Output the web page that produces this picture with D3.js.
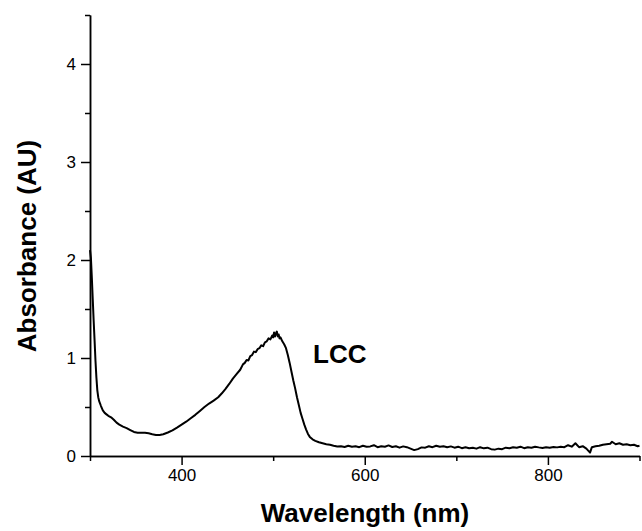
<!DOCTYPE html>
<html>
<head>
<meta charset="utf-8">
<script src="https://cdn.jsdelivr.net/npm/d3@7"></script>
<style>
  body { margin: 0; background: #fff; }
  text { font-family: "Liberation Sans", Arial, sans-serif; fill: #000; }
  .axis path, .axis line { stroke: #000; stroke-width: 1.5; }
  .axis text { font-size: 17px; }
  .title { font-size: 26px; font-weight: bold; }
</style>
</head>
<body>
<div id="plot"></div>
<script>
let svgWidth = 642
let svgHeight = 531

// spectrum (nm, AU)
let wavelength = [
  300, 301, 302, 303, 304, 305, 306, 307, 308, 309, 310, 312, 314, 316, 318, 320,
  323, 326, 329, 332, 336, 340, 344, 348, 352, 356, 360, 364, 368, 372, 376, 380,
  385, 390, 395, 400, 405, 410, 415, 420, 425, 430, 435, 440, 444, 448, 452, 456,
  460, 464, 467, 469, 471, 473, 475, 477, 479, 481, 483, 485, 487, 489, 491, 493,
  495, 497, 499, 500, 501, 502, 503, 504, 505, 506, 507, 508, 510, 512, 514, 516,
  518, 520, 522, 524, 526, 528, 530, 532, 534, 536, 538, 540, 543, 546, 550, 554,
  558, 562, 566, 570, 574, 578, 582, 586, 590, 594, 598, 602, 606, 610, 614, 618,
  622, 626, 630, 634, 638, 642, 646, 650, 654, 658, 662, 666, 670, 674, 678, 682,
  686, 690, 694, 698, 702, 706, 710, 714, 718, 722, 726, 730, 734, 738, 742, 746,
  750, 754, 758, 762, 766, 770, 774, 778, 782, 786, 790, 794, 798, 802, 806, 810,
  814, 818, 822, 826, 830, 834, 838, 842, 846, 848, 852, 856, 860, 864, 868, 870,
  874, 878, 882, 886, 890, 894, 898, 900
]
let absorbance = [
  2.10, 2.02, 1.82, 1.60, 1.38, 1.18, 0.97, 0.80, 0.67, 0.60, 0.56, 0.51, 0.465, 0.44, 0.425, 0.41,
  0.395, 0.37, 0.34, 0.32, 0.30, 0.285, 0.265, 0.245, 0.238, 0.238, 0.237, 0.232, 0.222, 0.215, 0.215, 0.222,
  0.24, 0.262, 0.29, 0.32, 0.35, 0.385, 0.42, 0.46, 0.50, 0.535, 0.565, 0.60, 0.64, 0.685, 0.735, 0.79,
  0.835, 0.88, 0.935, 0.95, 0.98, 0.975, 1.02, 1.03, 1.065, 1.06, 1.09, 1.10, 1.13, 1.12, 1.16, 1.17,
  1.20, 1.19, 1.23, 1.21, 1.26, 1.22, 1.25, 1.27, 1.22, 1.24, 1.20, 1.21, 1.17, 1.14, 1.10, 1.03,
  0.95, 0.86, 0.77, 0.69, 0.60, 0.52, 0.44, 0.38, 0.32, 0.27, 0.225, 0.195, 0.17, 0.155, 0.14, 0.13,
  0.12, 0.115, 0.105, 0.098, 0.10, 0.092, 0.104, 0.095, 0.10, 0.09, 0.105, 0.095, 0.098, 0.11, 0.09, 0.10,
  0.095, 0.108, 0.092, 0.10, 0.085, 0.098, 0.09, 0.075, 0.06, 0.07, 0.088, 0.085, 0.10, 0.09, 0.105, 0.095,
  0.10, 0.09, 0.098, 0.085, 0.095, 0.08, 0.09, 0.08, 0.085, 0.075, 0.09, 0.078, 0.085, 0.07, 0.065, 0.075,
  0.07, 0.085, 0.08, 0.09, 0.085, 0.095, 0.08, 0.09, 0.085, 0.095, 0.088, 0.082, 0.09, 0.085, 0.092, 0.088,
  0.095, 0.09, 0.11, 0.095, 0.13, 0.09, 0.10, 0.075, 0.035, 0.09, 0.10, 0.105, 0.115, 0.12, 0.125, 0.145,
  0.12, 0.13, 0.115, 0.12, 0.11, 0.115, 0.10, 0.105
]

let xMajor = [400, 600, 800]
let xMinor = [300, 500, 700, 900]
let yMajor = [0, 1, 2, 3, 4]
let yMinor = [0.5, 1.5, 2.5, 3.5, 4.5]

let seriesLabel = "LCC"
let labelPos = [543.5, 0.95]

let svg = d3.select("#plot")
  .append("svg")
  .attr("width", svgWidth)
  .attr("height", svgHeight)

let xScale = d3.scaleLinear()
  .domain([300, 900])
  .range([90, 639.5])

let yScale = d3.scaleLinear()
  .domain([0, 4.5])
  .range([456, 15])

// minor ticks first, then labelled major ticks
svg.append("g")
  .attr("class", "axis")
  .attr("transform", "translate(0, 456)")
  .call(d3.axisBottom(xScale).tickValues(xMinor).tickSize(5).tickSizeOuter(0).tickFormat(""))

svg.append("g")
  .attr("class", "axis")
  .attr("transform", "translate(0, 456)")
  .call(d3.axisBottom(xScale).tickValues(xMajor).tickSize(9).tickSizeOuter(0).tickPadding(4).tickFormat(d3.format("d")))

svg.append("g")
  .attr("class", "axis")
  .attr("transform", "translate(90, 0)")
  .call(d3.axisLeft(yScale).tickValues(yMinor).tickSize(5).tickSizeOuter(0).tickFormat(""))

svg.append("g")
  .attr("class", "axis")
  .attr("transform", "translate(90, 0)")
  .call(d3.axisLeft(yScale).tickValues(yMajor).tickSize(9).tickSizeOuter(0).tickPadding(5).tickFormat(d3.format("d")))

let points = wavelength.map((w, i) => [w, absorbance[i]])

let line = d3.line()
  .x(d => xScale(d[0]))
  .y(d => yScale(d[1]))

svg.append("path")
  .datum(points)
  .attr("fill", "none")
  .attr("stroke", "#000")
  .attr("stroke-width", 2)
  .attr("stroke-linejoin", "round")
  .attr("d", line)

svg.append("text")
  .attr("class", "title")
  .attr("x", xScale(labelPos[0]))
  .attr("y", yScale(labelPos[1]))
  .text(seriesLabel)

svg.append("text")
  .attr("class", "title")
  .attr("text-anchor", "middle")
  .attr("x", 365)
  .attr("y", 522)
  .text("Wavelength (nm)")

svg.append("text")
  .attr("class", "title")
  .attr("text-anchor", "middle")
  .attr("transform", "translate(36, 246) rotate(-90)")
  .text("Absorbance (AU)")
</script>
</body>
</html>
